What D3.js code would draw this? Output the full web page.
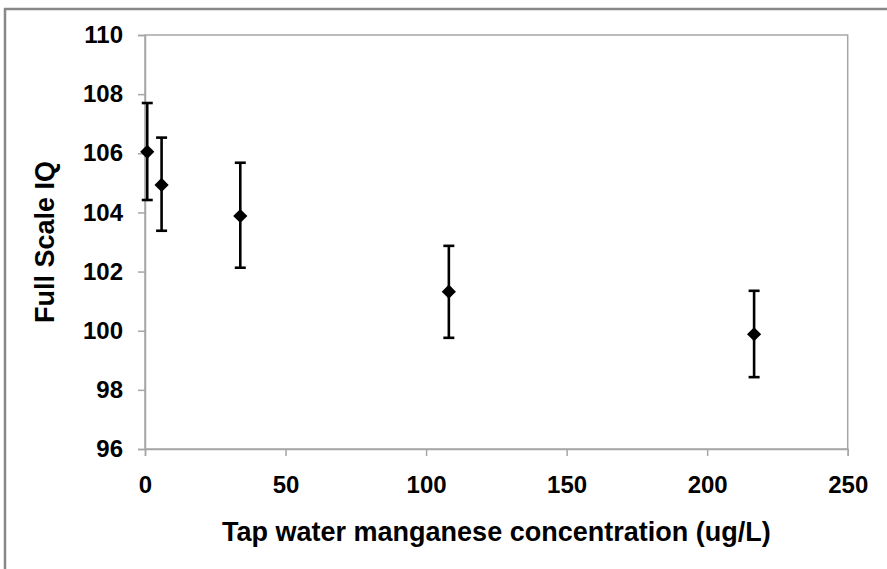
<!DOCTYPE html>
<html><head><meta charset="utf-8">
<script src="https://cdn.jsdelivr.net/npm/d3@7"></script>
<style>body{margin:0;background:#fff}svg{display:block}text{font-family:"Liberation Sans",Arial,sans-serif;font-weight:bold;fill:#000}</style>
</head><body>
<script>
const concentration = [0.8, 5.9, 33.9, 108.1, 216.7];
const meanIQ = [106.05, 104.93, 103.88, 101.32, 99.88];
const upperIQ = [107.7, 106.53, 105.68, 102.87, 101.35];
const lowerIQ = [104.42, 103.38, 102.13, 99.76, 98.43];
const xTicks = [0, 50, 100, 150, 200, 250];
const yTicks = [96, 98, 100, 102, 104, 106, 108, 110];

const W = 887, H = 569;
const m = {l:145, r:887-847.7, t:35, b:569-449};
const svg = d3.select("body").append("svg").attr("width", W).attr("height", H);

// outer border (left & top visible)
svg.append("path").attr("d", `M5,${H}V9H${W}`).attr("fill","none").attr("stroke","#888").attr("stroke-width",2.5);

const x = d3.scaleLinear().domain([0,250]).range([m.l, W-m.r]);
const y = d3.scaleLinear().domain([96,110]).range([H-m.b, m.t]);

// plot border
svg.append("rect").attr("x", x(0)).attr("y", y(110)).attr("width", x(250)-x(0)).attr("height", y(96)-y(110))
  .attr("fill","none").attr("stroke","#a6a6a6").attr("stroke-width",1.5);

const gx = svg.append("g").attr("transform",`translate(0,${y(96)})`)
  .call(d3.axisBottom(x).tickValues(xTicks).tickSize(7).tickPadding(20).tickFormat(d3.format("d")));
const gy = svg.append("g").attr("transform",`translate(${x(0)},0)`)
  .call(d3.axisLeft(y).tickValues(yTicks).tickSize(7).tickPadding(15).tickFormat(d3.format("d")));
[gx, gy].forEach(g=>{
  g.select(".domain").attr("stroke","#a6a6a6").attr("stroke-width",1.5);
  g.selectAll(".tick line").attr("stroke","#a6a6a6").attr("stroke-width",1.5);
  g.selectAll("text").attr("font-size",24).attr("font-family",'"Liberation Sans",Arial,sans-serif').attr("font-weight","bold").attr("fill","#000");
});
gy.selectAll("text").attr("x",-22);

const data = concentration.map((c,i)=>({c, m:meanIQ[i], u:upperIQ[i], l:lowerIQ[i]}));
const g = svg.append("g");
g.selectAll(".eb").data(data).enter().append("line")
  .attr("x1",d=>x(d.c)).attr("x2",d=>x(d.c)).attr("y1",d=>y(d.u)).attr("y2",d=>y(d.l))
  .attr("stroke","#000").attr("stroke-width",2.6);
["u","l"].forEach(k=>{
  g.selectAll(".cap"+k).data(data).enter().append("line")
    .attr("x1",d=>x(d.c)-5.5).attr("x2",d=>x(d.c)+5.5).attr("y1",d=>y(d[k])).attr("y2",d=>y(d[k]))
    .attr("stroke","#000").attr("stroke-width",2.6);
});
g.selectAll(".pt").data(data).enter().append("path")
  .attr("d", d3.symbol().type(d3.symbolDiamond2).size(128)())
  .attr("transform",d=>`translate(${x(d.c)},${y(d.m)})`).attr("fill","#000");

svg.append("text").attr("x",(x(0)+x(250))/2).attr("y",541).attr("text-anchor","middle").attr("font-size",27)
  .text("Tap water manganese concentration (ug/L)");
svg.append("text").attr("transform",`translate(54,${(y(96)+y(110))/2}) rotate(-90)`).attr("text-anchor","middle").attr("font-size",27)
  .text("Full Scale IQ");
</script>
</body></html>
